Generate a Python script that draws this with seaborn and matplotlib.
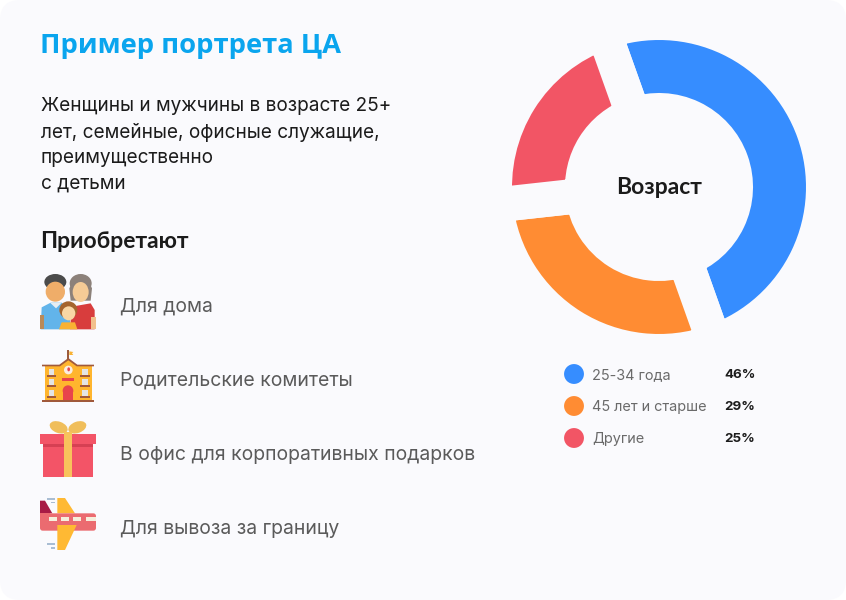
import matplotlib
matplotlib.use("Agg")
import matplotlib.pyplot as plt
import seaborn as sns
from matplotlib.patches import Circle, Ellipse, FancyBboxPatch, Polygon, Rectangle

# --- DATA ---
age_groups = ["25-34 года", "45 лет и старше", "Другие"]
age_labels = ["46%", "29%", "25%"]
# arc sizes as drawn in the picture (they differ from the printed numbers)
arc_shares = [50.0, 28.7, 21.3]
body_lines = ["Женщины и мужчины в возрасте 25+", "лет, семейные, офисные служащие,", "преимущественно", "с детьми"]
buy_items = ["Для дома", "Родительские комитеты", "В офис для корпоративных подарков", "Для вывоза за границу"]

# --- STYLE ---
W, H = 846, 600
CARD = "#FAFAFD"
DARK = "#1B1B1B"
GREY = "#5A5A5A"
BODY_FONT = "Inter"
HEAD_FONT = "Lato"
colors = sns.color_palette(["#368DFF", "#FF8C33", "#F25565"])

sns.set_theme(style="white")
plt.rcParams["font.family"] = [BODY_FONT, "DejaVu Sans"]

fig = plt.figure(figsize=(W / 100, H / 100), dpi=100, facecolor="white")


def px_axes(x0, y0, x1, y1, **kw):
    return fig.add_axes([x0 / W, 1 - y1 / H, (x1 - x0) / W, (y1 - y0) / H], **kw)


# page layer in pixel coordinates
page = px_axes(0, 0, W, H)
page.set_xlim(0, W)
page.set_ylim(H, 0)
page.axis("off")
page.add_patch(FancyBboxPatch((20, 20), W - 40, H - 40, boxstyle="round,pad=20,rounding_size=20",
                              fc=CARD, ec="none", zorder=0))

# --- DONUT ---
# wide card-coloured edge gives the parallel-sided gaps, so radii are grown by half of it
R_OUT, R_IN, GAP = 147, 94, 35
CX, CY = 659, 187
R = R_OUT + GAP / 2
donut = px_axes(CX - R, CY - R, CX + R, CY + R)
donut.patch.set_alpha(0)
donut.pie(arc_shares, colors=colors, startangle=109.6, counterclock=False, radius=1,
          wedgeprops=dict(width=(R_OUT - R_IN + GAP) / R, edgecolor=CARD, linewidth=GAP * 0.72))
donut.set_xlim(-1, 1)
donut.set_ylim(-1, 1)
donut.set_aspect("equal")
donut.text(0, 0, "Возраст", ha="center", va="center", fontsize=16.5, fontweight="bold",
           family=[HEAD_FONT, "DejaVu Sans"], color=DARK)

# --- LEGEND ---
legend_ax = px_axes(564, 358, 584, 454)
legend_ax.patch.set_alpha(0)
sns.scatterplot(x=[0] * len(age_groups), y=age_groups, hue=age_groups, palette=list(colors),
                s=205, linewidth=0, legend=False, ax=legend_ax)
legend_ax.set_ylim(2.5, -0.5)
legend_ax.set_xlim(-1, 1)
legend_ax.axis("off")
for i, (name, lab) in enumerate(zip(age_groups, age_labels)):
    page.text(592, 375 + 32 * i, name, fontsize=10.4, color="#6A6A6A", va="center")
    page.text(724, 375 + 32 * i, lab, fontsize=9.6, color=DARK, va="center", fontweight="bold")

# --- TEXT ---
page.text(40, 46, "Пример портрета ЦА", fontsize=19.7, fontweight="bold", color="#0AA5EE",
          family=["Open Sans", "DejaVu Sans"], va="center")
for i, line in enumerate(body_lines):
    page.text(41, 106 + 26 * i, line, fontsize=13.7, color=DARK, va="center")
page.text(40, 241, "Приобретают", fontsize=16.5, fontweight="bold", color=DARK, va="center",
          family=[HEAD_FONT, "DejaVu Sans"])
for i, item in enumerate(buy_items):
    page.text(120, 306.5 + 74.3 * i, item, fontsize=13.95, color=GREY, va="center")


# --- ICONS --- (coordinates are measured on 3x crops, base is the crop origin)
def poly(base, pts, color, z=2):
    page.add_patch(Polygon([(base[0] + x / 3, base[1] + y / 3) for x, y in pts], closed=True,
                           fc=color, ec="none", zorder=z))


def rect(base, x0, y0, x1, y1, color, z=2):
    page.add_patch(Rectangle((base[0] + x0 / 3, base[1] + y0 / 3), (x1 - x0) / 3, (y1 - y0) / 3,
                             fc=color, ec="none", zorder=z))


def oval(base, x, y, rx, ry, color, z=2, angle=0):
    page.add_patch(Ellipse((base[0] + x / 3, base[1] + y / 3), 2 * rx / 3, 2 * ry / 3, angle=angle,
                           fc=color, ec="none", zorder=z))


def icon_family(b):
    # man
    oval(b, 106, 66, 33, 24, "#4B4B4B", 2)
    oval(b, 106, 95, 29, 30, "#EFAD69", 3)
    poly(b, [(65, 142), (92, 128), (125, 128), (150, 150), (150, 208), (62, 208)], "#62B4EA", 2)
    rect(b, 60, 165, 72, 208, "#B98A5A", 3)
    poly(b, [(90, 128), (125, 128), (108, 145)], "#E8EEF2", 3)
    # woman
    poly(b, [(148, 85), (165, 50), (200, 50), (216, 85), (212, 122), (152, 122)], "#8C817A", 2)
    oval(b, 182, 70, 33, 28, "#8C817A", 2)
    oval(b, 182, 96, 24, 30, "#F5CB96", 3)
    poly(b, [(155, 140), (212, 130), (224, 150), (224, 208), (150, 208)], "#D83D3D", 2)
    rect(b, 212, 170, 228, 208, "#F2C08C", 3)
    # girl
    oval(b, 145, 150, 27, 26, "#A5652E", 4)
    oval(b, 146, 160, 20, 21, "#F9D7A5", 5)
    poly(b, [(117, 208), (125, 187), (165, 187), (172, 208)], "#F9B233", 5)


def icon_school(b):
    rect(b, 142, 270, 147, 298, "#9B5B3E", 2)
    poly(b, [(148, 274), (160, 276), (156, 280), (160, 285), (148, 285)], "#F9B233", 2)
    rect(b, 75, 318, 215, 422, "#FFB52E", 2)
    poly(b, [(112, 320), (145, 298), (178, 320)], "#FFB52E", 2)
    poly(b, [(66, 314), (118, 314), (145, 294), (172, 314), (222, 314), (222, 319), (170, 319),
             (145, 301), (120, 319), (66, 319)], "#A0593B", 3)
    page_circle = Circle((b[0] + 145 / 3, b[1] + 330 / 3), 13 / 3, fc="#FBEDE0", ec="none", zorder=3)
    page.add_patch(page_circle)
    oval(b, 146, 328, 4, 6, "#E8434C", 4)
    for x0 in (86, 186):
        for y0 in (327, 358, 390):
            rect(b, x0, y0, x0 + 17, y0 + 17, "#E4E4E4", 3)
            rect(b, x0 - 6, y0 + 18, x0 + 23, y0 + 23, "#A0593B", 3)
    rect(b, 125, 353, 162, 364, "#E8434C", 3)
    rect(b, 128, 392, 160, 423, "#E8434C", 3)
    oval(b, 144, 392, 16, 16, "#E8434C", 3)
    rect(b, 143, 378, 145, 423, "#F7A0A0", 4)
    rect(b, 66, 421, 222, 427, "#A0593B", 4)


def icon_gift(b):
    oval(b, 116, 52, 28, 17, "#F0BE5B", 2, angle=20)
    oval(b, 172, 52, 28, 17, "#F0BE5B", 2, angle=-20)
    rect(b, 68, 102, 220, 202, "#F35467", 2)
    rect(b, 60, 72, 228, 102, "#F35467", 3)
    rect(b, 68, 102, 220, 110, "#D64053", 3)
    rect(b, 132, 66, 156, 202, "#F8C25C", 4)


def icon_plane(b):
    for x0, y0 in ((80, 264), (92, 275), (80, 399), (92, 411)):
        rect(b, x0, y0, 104, y0 + 5, "#A9BDD3", 2)
    poly(b, [(112, 264), (135, 264), (165, 310), (112, 310)], "#FFB933", 2)
    poly(b, [(60, 272), (75, 272), (97, 310), (60, 310)], "#A81C45", 2)
    page.add_patch(FancyBboxPatch((b[0] + 68 / 3, b[1] + 318 / 3), 152 / 3, 36 / 3,
                                  boxstyle="round,pad=%f,rounding_size=%f" % (8 / 3, 8 / 3),
                                  fc="#EB6B70", ec="none", zorder=3))
    rect(b, 60, 310, 90, 335, "#EB6B70", 3)
    poly(b, [(112, 345), (170, 345), (135, 420), (112, 420)], "#FFB933", 4)
    for x0, x1 in ((88, 112), (124, 148), (159, 183), (198, 228)):
        rect(b, x0, 322, x1, 333, "#F5EFDC", 4)


icon_family((20, 260))
icon_school((20, 260))
icon_gift((20, 410))
icon_plane((20, 410))

fig.savefig("out.png", dpi=100, facecolor=fig.get_facecolor())
